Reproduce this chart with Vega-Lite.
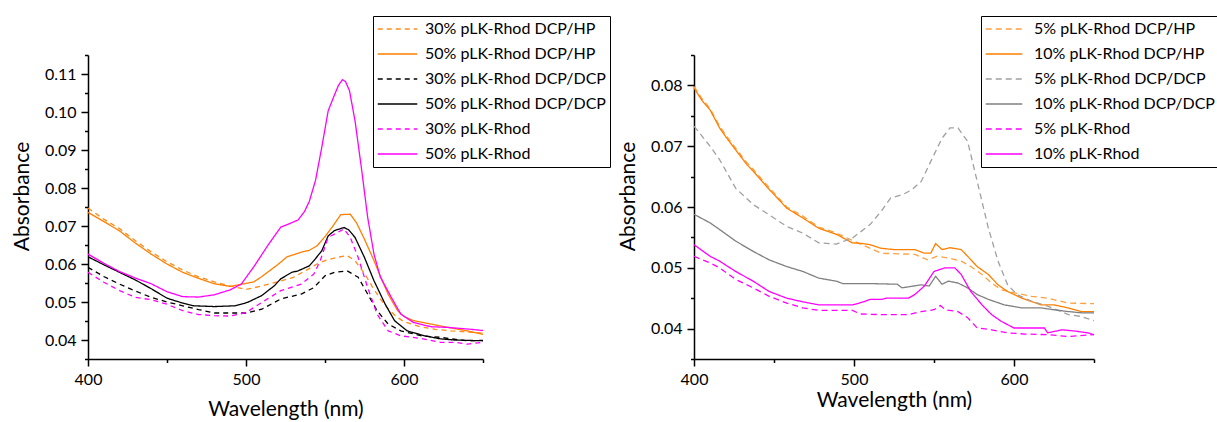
{
"$schema":"https://vega.github.io/schema/vega-lite/v6.json",
"padding":{"left":11,"top":15,"right":0,"bottom":2},
"bounds":"flush",
"spacing":211,
"config":{
 "view":{"stroke":null},
 "axis":{"domainColor":"black","domainWidth":1.5,"tickColor":"black","tickWidth":1.5,"labelFont":"Lato","labelFontSize":16,"labelColor":"black","titleFont":"Lato","titleFontSize":21,"titleFontWeight":"normal","titleColor":"black","grid":false,"labelPadding":5,"labelOverlap":false,"labelFlush":false},
 "legend":{"orient":"none","legendY":-39,"title":null,"symbolType":"stroke","symbolStrokeWidth":1.5,"labelFont":"Lato","labelFontSize":16,"labelColor":"black","strokeColor":"black","padding":4,"clipHeight":18,"rowPadding":7,"labelLimit":400}
},
"datasets":{
"left":[
{"s":"30% pLK-Rhod DCP/HP","x":400,"y":0.0747},{"s":"30% pLK-Rhod DCP/HP","x":410,"y":0.0718},{"s":"30% pLK-Rhod DCP/HP","x":420,"y":0.0693},{"s":"30% pLK-Rhod DCP/HP","x":430,"y":0.0661},{"s":"30% pLK-Rhod DCP/HP","x":440,"y":0.0632},{"s":"30% pLK-Rhod DCP/HP","x":450,"y":0.0606},{"s":"30% pLK-Rhod DCP/HP","x":460,"y":0.0584},{"s":"30% pLK-Rhod DCP/HP","x":470,"y":0.0566},{"s":"30% pLK-Rhod DCP/HP","x":480,"y":0.0553},{"s":"30% pLK-Rhod DCP/HP","x":490,"y":0.0542},{"s":"30% pLK-Rhod DCP/HP","x":500,"y":0.0533},{"s":"30% pLK-Rhod DCP/HP","x":510,"y":0.0542},{"s":"30% pLK-Rhod DCP/HP","x":520,"y":0.0553},{"s":"30% pLK-Rhod DCP/HP","x":530,"y":0.0565},{"s":"30% pLK-Rhod DCP/HP","x":540,"y":0.0588},{"s":"30% pLK-Rhod DCP/HP","x":545,"y":0.06},{"s":"30% pLK-Rhod DCP/HP","x":550,"y":0.0609},{"s":"30% pLK-Rhod DCP/HP","x":557,"y":0.0617},{"s":"30% pLK-Rhod DCP/HP","x":564,"y":0.0622},{"s":"30% pLK-Rhod DCP/HP","x":569,"y":0.0609},{"s":"30% pLK-Rhod DCP/HP","x":575,"y":0.0575},{"s":"30% pLK-Rhod DCP/HP","x":580,"y":0.054},{"s":"30% pLK-Rhod DCP/HP","x":585,"y":0.0508},{"s":"30% pLK-Rhod DCP/HP","x":590,"y":0.0482},{"s":"30% pLK-Rhod DCP/HP","x":595,"y":0.0462},{"s":"30% pLK-Rhod DCP/HP","x":600,"y":0.0448},{"s":"30% pLK-Rhod DCP/HP","x":610,"y":0.0435},{"s":"30% pLK-Rhod DCP/HP","x":620,"y":0.0428},{"s":"30% pLK-Rhod DCP/HP","x":630,"y":0.0424},{"s":"30% pLK-Rhod DCP/HP","x":640,"y":0.0421},{"s":"30% pLK-Rhod DCP/HP","x":650,"y":0.0418},
{"s":"50% pLK-Rhod DCP/HP","x":400,"y":0.0736},{"s":"50% pLK-Rhod DCP/HP","x":410,"y":0.0712},{"s":"50% pLK-Rhod DCP/HP","x":420,"y":0.0687},{"s":"50% pLK-Rhod DCP/HP","x":430,"y":0.0655},{"s":"50% pLK-Rhod DCP/HP","x":440,"y":0.0626},{"s":"50% pLK-Rhod DCP/HP","x":450,"y":0.06},{"s":"50% pLK-Rhod DCP/HP","x":460,"y":0.0578},{"s":"50% pLK-Rhod DCP/HP","x":470,"y":0.0562},{"s":"50% pLK-Rhod DCP/HP","x":480,"y":0.0548},{"s":"50% pLK-Rhod DCP/HP","x":490,"y":0.0541},{"s":"50% pLK-Rhod DCP/HP","x":500,"y":0.0549},{"s":"50% pLK-Rhod DCP/HP","x":505,"y":0.0553},{"s":"50% pLK-Rhod DCP/HP","x":510,"y":0.0567},{"s":"50% pLK-Rhod DCP/HP","x":520,"y":0.0598},{"s":"50% pLK-Rhod DCP/HP","x":526,"y":0.0619},{"s":"50% pLK-Rhod DCP/HP","x":535,"y":0.0631},{"s":"50% pLK-Rhod DCP/HP","x":540,"y":0.0636},{"s":"50% pLK-Rhod DCP/HP","x":545,"y":0.0648},{"s":"50% pLK-Rhod DCP/HP","x":550,"y":0.0672},{"s":"50% pLK-Rhod DCP/HP","x":555,"y":0.07},{"s":"50% pLK-Rhod DCP/HP","x":560,"y":0.073},{"s":"50% pLK-Rhod DCP/HP","x":566,"y":0.0731},{"s":"50% pLK-Rhod DCP/HP","x":570,"y":0.0708},{"s":"50% pLK-Rhod DCP/HP","x":575,"y":0.0665},{"s":"50% pLK-Rhod DCP/HP","x":581,"y":0.0609},{"s":"50% pLK-Rhod DCP/HP","x":585,"y":0.0568},{"s":"50% pLK-Rhod DCP/HP","x":590,"y":0.052},{"s":"50% pLK-Rhod DCP/HP","x":596,"y":0.0477},{"s":"50% pLK-Rhod DCP/HP","x":600,"y":0.0462},{"s":"50% pLK-Rhod DCP/HP","x":606,"y":0.0451},{"s":"50% pLK-Rhod DCP/HP","x":617,"y":0.0442},{"s":"50% pLK-Rhod DCP/HP","x":628,"y":0.0433},{"s":"50% pLK-Rhod DCP/HP","x":640,"y":0.0424},{"s":"50% pLK-Rhod DCP/HP","x":650,"y":0.0415},
{"s":"30% pLK-Rhod DCP/DCP","x":400,"y":0.0591},{"s":"30% pLK-Rhod DCP/DCP","x":410,"y":0.0567},{"s":"30% pLK-Rhod DCP/DCP","x":420,"y":0.0547},{"s":"30% pLK-Rhod DCP/DCP","x":430,"y":0.0529},{"s":"30% pLK-Rhod DCP/DCP","x":440,"y":0.0512},{"s":"30% pLK-Rhod DCP/DCP","x":450,"y":0.05},{"s":"30% pLK-Rhod DCP/DCP","x":460,"y":0.049},{"s":"30% pLK-Rhod DCP/DCP","x":470,"y":0.048},{"s":"30% pLK-Rhod DCP/DCP","x":480,"y":0.0471},{"s":"30% pLK-Rhod DCP/DCP","x":490,"y":0.0471},{"s":"30% pLK-Rhod DCP/DCP","x":500,"y":0.0471},{"s":"30% pLK-Rhod DCP/DCP","x":510,"y":0.0481},{"s":"30% pLK-Rhod DCP/DCP","x":522,"y":0.0508},{"s":"30% pLK-Rhod DCP/DCP","x":535,"y":0.0521},{"s":"30% pLK-Rhod DCP/DCP","x":543,"y":0.0538},{"s":"30% pLK-Rhod DCP/DCP","x":550,"y":0.0569},{"s":"30% pLK-Rhod DCP/DCP","x":556,"y":0.0578},{"s":"30% pLK-Rhod DCP/DCP","x":564,"y":0.0582},{"s":"30% pLK-Rhod DCP/DCP","x":571,"y":0.0565},{"s":"30% pLK-Rhod DCP/DCP","x":577,"y":0.0521},{"s":"30% pLK-Rhod DCP/DCP","x":583,"y":0.0477},{"s":"30% pLK-Rhod DCP/DCP","x":590,"y":0.0442},{"s":"30% pLK-Rhod DCP/DCP","x":598,"y":0.0424},{"s":"30% pLK-Rhod DCP/DCP","x":611,"y":0.0411},{"s":"30% pLK-Rhod DCP/DCP","x":623,"y":0.0407},{"s":"30% pLK-Rhod DCP/DCP","x":632,"y":0.0402},{"s":"30% pLK-Rhod DCP/DCP","x":640,"y":0.0398},{"s":"30% pLK-Rhod DCP/DCP","x":650,"y":0.0399},
{"s":"50% pLK-Rhod DCP/DCP","x":400,"y":0.0619},{"s":"50% pLK-Rhod DCP/DCP","x":410,"y":0.0598},{"s":"50% pLK-Rhod DCP/DCP","x":420,"y":0.0578},{"s":"50% pLK-Rhod DCP/DCP","x":430,"y":0.0558},{"s":"50% pLK-Rhod DCP/DCP","x":440,"y":0.0535},{"s":"50% pLK-Rhod DCP/DCP","x":450,"y":0.051},{"s":"50% pLK-Rhod DCP/DCP","x":460,"y":0.0497},{"s":"50% pLK-Rhod DCP/DCP","x":467,"y":0.049},{"s":"50% pLK-Rhod DCP/DCP","x":480,"y":0.0488},{"s":"50% pLK-Rhod DCP/DCP","x":493,"y":0.049},{"s":"50% pLK-Rhod DCP/DCP","x":501,"y":0.0499},{"s":"50% pLK-Rhod DCP/DCP","x":510,"y":0.0517},{"s":"50% pLK-Rhod DCP/DCP","x":518,"y":0.0543},{"s":"50% pLK-Rhod DCP/DCP","x":522,"y":0.0561},{"s":"50% pLK-Rhod DCP/DCP","x":529,"y":0.0578},{"s":"50% pLK-Rhod DCP/DCP","x":533,"y":0.0582},{"s":"50% pLK-Rhod DCP/DCP","x":540,"y":0.0595},{"s":"50% pLK-Rhod DCP/DCP","x":543,"y":0.0609},{"s":"50% pLK-Rhod DCP/DCP","x":548,"y":0.0635},{"s":"50% pLK-Rhod DCP/DCP","x":552,"y":0.0674},{"s":"50% pLK-Rhod DCP/DCP","x":556,"y":0.0688},{"s":"50% pLK-Rhod DCP/DCP","x":562,"y":0.0696},{"s":"50% pLK-Rhod DCP/DCP","x":565,"y":0.069},{"s":"50% pLK-Rhod DCP/DCP","x":569,"y":0.067},{"s":"50% pLK-Rhod DCP/DCP","x":575,"y":0.0617},{"s":"50% pLK-Rhod DCP/DCP","x":581,"y":0.0556},{"s":"50% pLK-Rhod DCP/DCP","x":588,"y":0.0495},{"s":"50% pLK-Rhod DCP/DCP","x":594,"y":0.0451},{"s":"50% pLK-Rhod DCP/DCP","x":602,"y":0.0424},{"s":"50% pLK-Rhod DCP/DCP","x":613,"y":0.0411},{"s":"50% pLK-Rhod DCP/DCP","x":623,"y":0.0403},{"s":"50% pLK-Rhod DCP/DCP","x":632,"y":0.04},{"s":"50% pLK-Rhod DCP/DCP","x":640,"y":0.0399},{"s":"50% pLK-Rhod DCP/DCP","x":650,"y":0.0398},
{"s":"30% pLK-Rhod","x":400,"y":0.0578},{"s":"30% pLK-Rhod","x":410,"y":0.0552},{"s":"30% pLK-Rhod","x":420,"y":0.053},{"s":"30% pLK-Rhod","x":430,"y":0.0512},{"s":"30% pLK-Rhod","x":440,"y":0.0506},{"s":"30% pLK-Rhod","x":450,"y":0.0494},{"s":"30% pLK-Rhod","x":460,"y":0.0477},{"s":"30% pLK-Rhod","x":470,"y":0.0467},{"s":"30% pLK-Rhod","x":480,"y":0.0464},{"s":"30% pLK-Rhod","x":490,"y":0.0463},{"s":"30% pLK-Rhod","x":500,"y":0.0472},{"s":"30% pLK-Rhod","x":510,"y":0.0499},{"s":"30% pLK-Rhod","x":522,"y":0.053},{"s":"30% pLK-Rhod","x":535,"y":0.0547},{"s":"30% pLK-Rhod","x":543,"y":0.0574},{"s":"30% pLK-Rhod","x":547,"y":0.0609},{"s":"30% pLK-Rhod","x":552,"y":0.067},{"s":"30% pLK-Rhod","x":558,"y":0.0683},{"s":"30% pLK-Rhod","x":562,"y":0.0692},{"s":"30% pLK-Rhod","x":566,"y":0.067},{"s":"30% pLK-Rhod","x":571,"y":0.0617},{"s":"30% pLK-Rhod","x":577,"y":0.0538},{"s":"30% pLK-Rhod","x":583,"y":0.0468},{"s":"30% pLK-Rhod","x":590,"y":0.0424},{"s":"30% pLK-Rhod","x":598,"y":0.0411},{"s":"30% pLK-Rhod","x":611,"y":0.0404},{"s":"30% pLK-Rhod","x":623,"y":0.0394},{"s":"30% pLK-Rhod","x":632,"y":0.0394},{"s":"30% pLK-Rhod","x":640,"y":0.0389},{"s":"30% pLK-Rhod","x":650,"y":0.0394},
{"s":"50% pLK-Rhod","x":400,"y":0.0626},{"s":"50% pLK-Rhod","x":410,"y":0.0602},{"s":"50% pLK-Rhod","x":420,"y":0.058},{"s":"50% pLK-Rhod","x":430,"y":0.0563},{"s":"50% pLK-Rhod","x":440,"y":0.0548},{"s":"50% pLK-Rhod","x":450,"y":0.0527},{"s":"50% pLK-Rhod","x":460,"y":0.0514},{"s":"50% pLK-Rhod","x":470,"y":0.0513},{"s":"50% pLK-Rhod","x":480,"y":0.0519},{"s":"50% pLK-Rhod","x":490,"y":0.0532},{"s":"50% pLK-Rhod","x":497,"y":0.0547},{"s":"50% pLK-Rhod","x":505,"y":0.0593},{"s":"50% pLK-Rhod","x":514,"y":0.065},{"s":"50% pLK-Rhod","x":522,"y":0.0697},{"s":"50% pLK-Rhod","x":528,"y":0.0707},{"s":"50% pLK-Rhod","x":533,"y":0.0716},{"s":"50% pLK-Rhod","x":537,"y":0.0738},{"s":"50% pLK-Rhod","x":540,"y":0.0764},{"s":"50% pLK-Rhod","x":544,"y":0.082},{"s":"50% pLK-Rhod","x":548,"y":0.0908},{"s":"50% pLK-Rhod","x":552,"y":0.1003},{"s":"50% pLK-Rhod","x":556,"y":0.1045},{"s":"50% pLK-Rhod","x":558.5,"y":0.107},{"s":"50% pLK-Rhod","x":561,"y":0.1085},{"s":"50% pLK-Rhod","x":563,"y":0.108},{"s":"50% pLK-Rhod","x":565.5,"y":0.1056},{"s":"50% pLK-Rhod","x":569,"y":0.0977},{"s":"50% pLK-Rhod","x":573,"y":0.0854},{"s":"50% pLK-Rhod","x":577,"y":0.0723},{"s":"50% pLK-Rhod","x":581,"y":0.0626},{"s":"50% pLK-Rhod","x":585,"y":0.0566},{"s":"50% pLK-Rhod","x":592,"y":0.0512},{"s":"50% pLK-Rhod","x":598,"y":0.0468},{"s":"50% pLK-Rhod","x":606,"y":0.0446},{"s":"50% pLK-Rhod","x":617,"y":0.0435},{"s":"50% pLK-Rhod","x":628,"y":0.0433},{"s":"50% pLK-Rhod","x":640,"y":0.0429},{"s":"50% pLK-Rhod","x":650,"y":0.0425}
],
"right":[
{"s":"5% pLK-Rhod DCP/HP","x":400,"y":0.0798},{"s":"5% pLK-Rhod DCP/HP","x":405,"y":0.0778},{"s":"5% pLK-Rhod DCP/HP","x":410,"y":0.0762},{"s":"5% pLK-Rhod DCP/HP","x":416,"y":0.0733},{"s":"5% pLK-Rhod DCP/HP","x":420,"y":0.0718},{"s":"5% pLK-Rhod DCP/HP","x":426,"y":0.0697},{"s":"5% pLK-Rhod DCP/HP","x":433,"y":0.0673},{"s":"5% pLK-Rhod DCP/HP","x":437,"y":0.0662},{"s":"5% pLK-Rhod DCP/HP","x":447,"y":0.0632},{"s":"5% pLK-Rhod DCP/HP","x":458,"y":0.06},{"s":"5% pLK-Rhod DCP/HP","x":468,"y":0.0585},{"s":"5% pLK-Rhod DCP/HP","x":478,"y":0.0567},{"s":"5% pLK-Rhod DCP/HP","x":489,"y":0.0557},{"s":"5% pLK-Rhod DCP/HP","x":499,"y":0.0545},{"s":"5% pLK-Rhod DCP/HP","x":505,"y":0.0538},{"s":"5% pLK-Rhod DCP/HP","x":517,"y":0.0524},{"s":"5% pLK-Rhod DCP/HP","x":538,"y":0.0522},{"s":"5% pLK-Rhod DCP/HP","x":546,"y":0.0513},{"s":"5% pLK-Rhod DCP/HP","x":552,"y":0.0519},{"s":"5% pLK-Rhod DCP/HP","x":559,"y":0.0516},{"s":"5% pLK-Rhod DCP/HP","x":567,"y":0.0511},{"s":"5% pLK-Rhod DCP/HP","x":573,"y":0.0502},{"s":"5% pLK-Rhod DCP/HP","x":580,"y":0.0489},{"s":"5% pLK-Rhod DCP/HP","x":586,"y":0.0475},{"s":"5% pLK-Rhod DCP/HP","x":592,"y":0.0464},{"s":"5% pLK-Rhod DCP/HP","x":600,"y":0.0459},{"s":"5% pLK-Rhod DCP/HP","x":611,"y":0.0453},{"s":"5% pLK-Rhod DCP/HP","x":621,"y":0.045},{"s":"5% pLK-Rhod DCP/HP","x":634,"y":0.0442},{"s":"5% pLK-Rhod DCP/HP","x":650,"y":0.0441},
{"s":"10% pLK-Rhod DCP/HP","x":400,"y":0.0796},{"s":"10% pLK-Rhod DCP/HP","x":405,"y":0.0775},{"s":"10% pLK-Rhod DCP/HP","x":410,"y":0.076},{"s":"10% pLK-Rhod DCP/HP","x":416,"y":0.073},{"s":"10% pLK-Rhod DCP/HP","x":420,"y":0.0715},{"s":"10% pLK-Rhod DCP/HP","x":426,"y":0.0694},{"s":"10% pLK-Rhod DCP/HP","x":433,"y":0.067},{"s":"10% pLK-Rhod DCP/HP","x":437,"y":0.0659},{"s":"10% pLK-Rhod DCP/HP","x":447,"y":0.0629},{"s":"10% pLK-Rhod DCP/HP","x":458,"y":0.0598},{"s":"10% pLK-Rhod DCP/HP","x":468,"y":0.0582},{"s":"10% pLK-Rhod DCP/HP","x":478,"y":0.0565},{"s":"10% pLK-Rhod DCP/HP","x":489,"y":0.0555},{"s":"10% pLK-Rhod DCP/HP","x":499,"y":0.0541},{"s":"10% pLK-Rhod DCP/HP","x":505,"y":0.054},{"s":"10% pLK-Rhod DCP/HP","x":510,"y":0.0538},{"s":"10% pLK-Rhod DCP/HP","x":517,"y":0.0532},{"s":"10% pLK-Rhod DCP/HP","x":525,"y":0.053},{"s":"10% pLK-Rhod DCP/HP","x":538,"y":0.053},{"s":"10% pLK-Rhod DCP/HP","x":544,"y":0.0524},{"s":"10% pLK-Rhod DCP/HP","x":548,"y":0.0524},{"s":"10% pLK-Rhod DCP/HP","x":551,"y":0.054},{"s":"10% pLK-Rhod DCP/HP","x":555,"y":0.053},{"s":"10% pLK-Rhod DCP/HP","x":560,"y":0.0533},{"s":"10% pLK-Rhod DCP/HP","x":567,"y":0.053},{"s":"10% pLK-Rhod DCP/HP","x":571,"y":0.0519},{"s":"10% pLK-Rhod DCP/HP","x":577,"y":0.0502},{"s":"10% pLK-Rhod DCP/HP","x":584,"y":0.0489},{"s":"10% pLK-Rhod DCP/HP","x":590,"y":0.0472},{"s":"10% pLK-Rhod DCP/HP","x":596,"y":0.0461},{"s":"10% pLK-Rhod DCP/HP","x":605,"y":0.045},{"s":"10% pLK-Rhod DCP/HP","x":617,"y":0.0439},{"s":"10% pLK-Rhod DCP/HP","x":625,"y":0.0439},{"s":"10% pLK-Rhod DCP/HP","x":634,"y":0.0434},{"s":"10% pLK-Rhod DCP/HP","x":642,"y":0.0428},{"s":"10% pLK-Rhod DCP/HP","x":650,"y":0.0428},
{"s":"5% pLK-Rhod DCP/DCP","x":400,"y":0.0733},{"s":"5% pLK-Rhod DCP/DCP","x":410,"y":0.07},{"s":"5% pLK-Rhod DCP/DCP","x":416,"y":0.0678},{"s":"5% pLK-Rhod DCP/DCP","x":426,"y":0.0631},{"s":"5% pLK-Rhod DCP/DCP","x":437,"y":0.0604},{"s":"5% pLK-Rhod DCP/DCP","x":447,"y":0.0587},{"s":"5% pLK-Rhod DCP/DCP","x":458,"y":0.0568},{"s":"5% pLK-Rhod DCP/DCP","x":468,"y":0.0557},{"s":"5% pLK-Rhod DCP/DCP","x":478,"y":0.0541},{"s":"5% pLK-Rhod DCP/DCP","x":489,"y":0.0539},{"s":"5% pLK-Rhod DCP/DCP","x":499,"y":0.0549},{"s":"5% pLK-Rhod DCP/DCP","x":510,"y":0.0571},{"s":"5% pLK-Rhod DCP/DCP","x":517,"y":0.0593},{"s":"5% pLK-Rhod DCP/DCP","x":523,"y":0.0615},{"s":"5% pLK-Rhod DCP/DCP","x":530,"y":0.062},{"s":"5% pLK-Rhod DCP/DCP","x":536,"y":0.0628},{"s":"5% pLK-Rhod DCP/DCP","x":542,"y":0.0642},{"s":"5% pLK-Rhod DCP/DCP","x":548,"y":0.0675},{"s":"5% pLK-Rhod DCP/DCP","x":555,"y":0.0713},{"s":"5% pLK-Rhod DCP/DCP","x":560,"y":0.073},{"s":"5% pLK-Rhod DCP/DCP","x":565,"y":0.073},{"s":"5% pLK-Rhod DCP/DCP","x":571,"y":0.0708},{"s":"5% pLK-Rhod DCP/DCP","x":577,"y":0.0642},{"s":"5% pLK-Rhod DCP/DCP","x":584,"y":0.0565},{"s":"5% pLK-Rhod DCP/DCP","x":590,"y":0.0511},{"s":"5% pLK-Rhod DCP/DCP","x":596,"y":0.0472},{"s":"5% pLK-Rhod DCP/DCP","x":602,"y":0.0456},{"s":"5% pLK-Rhod DCP/DCP","x":611,"y":0.0445},{"s":"5% pLK-Rhod DCP/DCP","x":621,"y":0.0437},{"s":"5% pLK-Rhod DCP/DCP","x":634,"y":0.0423},{"s":"5% pLK-Rhod DCP/DCP","x":642,"y":0.042},{"s":"5% pLK-Rhod DCP/DCP","x":650,"y":0.0413},
{"s":"10% pLK-Rhod DCP/DCP","x":400,"y":0.0588},{"s":"10% pLK-Rhod DCP/DCP","x":410,"y":0.0574},{"s":"10% pLK-Rhod DCP/DCP","x":416,"y":0.0563},{"s":"10% pLK-Rhod DCP/DCP","x":426,"y":0.0544},{"s":"10% pLK-Rhod DCP/DCP","x":437,"y":0.0527},{"s":"10% pLK-Rhod DCP/DCP","x":447,"y":0.0513},{"s":"10% pLK-Rhod DCP/DCP","x":458,"y":0.0502},{"s":"10% pLK-Rhod DCP/DCP","x":468,"y":0.0494},{"s":"10% pLK-Rhod DCP/DCP","x":478,"y":0.0483},{"s":"10% pLK-Rhod DCP/DCP","x":489,"y":0.0478},{"s":"10% pLK-Rhod DCP/DCP","x":493,"y":0.0474},{"s":"10% pLK-Rhod DCP/DCP","x":510,"y":0.0474},{"s":"10% pLK-Rhod DCP/DCP","x":527,"y":0.0473},{"s":"10% pLK-Rhod DCP/DCP","x":530,"y":0.0467},{"s":"10% pLK-Rhod DCP/DCP","x":542,"y":0.0472},{"s":"10% pLK-Rhod DCP/DCP","x":547,"y":0.047},{"s":"10% pLK-Rhod DCP/DCP","x":551,"y":0.0486},{"s":"10% pLK-Rhod DCP/DCP","x":555,"y":0.0473},{"s":"10% pLK-Rhod DCP/DCP","x":559,"y":0.0478},{"s":"10% pLK-Rhod DCP/DCP","x":565,"y":0.0475},{"s":"10% pLK-Rhod DCP/DCP","x":571,"y":0.0467},{"s":"10% pLK-Rhod DCP/DCP","x":577,"y":0.0456},{"s":"10% pLK-Rhod DCP/DCP","x":584,"y":0.0448},{"s":"10% pLK-Rhod DCP/DCP","x":594,"y":0.0439},{"s":"10% pLK-Rhod DCP/DCP","x":605,"y":0.0434},{"s":"10% pLK-Rhod DCP/DCP","x":617,"y":0.0434},{"s":"10% pLK-Rhod DCP/DCP","x":625,"y":0.0431},{"s":"10% pLK-Rhod DCP/DCP","x":634,"y":0.0428},{"s":"10% pLK-Rhod DCP/DCP","x":642,"y":0.0426},{"s":"10% pLK-Rhod DCP/DCP","x":650,"y":0.0426},
{"s":"5% pLK-Rhod","x":400,"y":0.0519},{"s":"5% pLK-Rhod","x":410,"y":0.0508},{"s":"5% pLK-Rhod","x":416,"y":0.05},{"s":"5% pLK-Rhod","x":426,"y":0.0481},{"s":"5% pLK-Rhod","x":437,"y":0.0467},{"s":"5% pLK-Rhod","x":447,"y":0.0453},{"s":"5% pLK-Rhod","x":458,"y":0.0442},{"s":"5% pLK-Rhod","x":468,"y":0.0434},{"s":"5% pLK-Rhod","x":478,"y":0.043},{"s":"5% pLK-Rhod","x":489,"y":0.043},{"s":"5% pLK-Rhod","x":499,"y":0.043},{"s":"5% pLK-Rhod","x":504,"y":0.0424},{"s":"5% pLK-Rhod","x":517,"y":0.0423},{"s":"5% pLK-Rhod","x":534,"y":0.0423},{"s":"5% pLK-Rhod","x":542,"y":0.0428},{"s":"5% pLK-Rhod","x":550,"y":0.0431},{"s":"5% pLK-Rhod","x":554,"y":0.0438},{"s":"5% pLK-Rhod","x":557,"y":0.0431},{"s":"5% pLK-Rhod","x":565,"y":0.0428},{"s":"5% pLK-Rhod","x":571,"y":0.0418},{"s":"5% pLK-Rhod","x":577,"y":0.0401},{"s":"5% pLK-Rhod","x":586,"y":0.0398},{"s":"5% pLK-Rhod","x":596,"y":0.0393},{"s":"5% pLK-Rhod","x":607,"y":0.0391},{"s":"5% pLK-Rhod","x":621,"y":0.039},{"s":"5% pLK-Rhod","x":634,"y":0.0387},{"s":"5% pLK-Rhod","x":650,"y":0.039},
{"s":"10% pLK-Rhod","x":400,"y":0.0538},{"s":"10% pLK-Rhod","x":410,"y":0.0519},{"s":"10% pLK-Rhod","x":416,"y":0.0511},{"s":"10% pLK-Rhod","x":426,"y":0.0494},{"s":"10% pLK-Rhod","x":437,"y":0.0478},{"s":"10% pLK-Rhod","x":447,"y":0.0461},{"s":"10% pLK-Rhod","x":458,"y":0.045},{"s":"10% pLK-Rhod","x":468,"y":0.0444},{"s":"10% pLK-Rhod","x":478,"y":0.0439},{"s":"10% pLK-Rhod","x":489,"y":0.0439},{"s":"10% pLK-Rhod","x":499,"y":0.0439},{"s":"10% pLK-Rhod","x":506,"y":0.0444},{"s":"10% pLK-Rhod","x":510,"y":0.0448},{"s":"10% pLK-Rhod","x":517,"y":0.0448},{"s":"10% pLK-Rhod","x":520,"y":0.045},{"s":"10% pLK-Rhod","x":534,"y":0.045},{"s":"10% pLK-Rhod","x":538,"y":0.0456},{"s":"10% pLK-Rhod","x":544,"y":0.047},{"s":"10% pLK-Rhod","x":550,"y":0.0494},{"s":"10% pLK-Rhod","x":557,"y":0.05},{"s":"10% pLK-Rhod","x":563,"y":0.05},{"s":"10% pLK-Rhod","x":567,"y":0.0489},{"s":"10% pLK-Rhod","x":573,"y":0.0461},{"s":"10% pLK-Rhod","x":580,"y":0.0439},{"s":"10% pLK-Rhod","x":586,"y":0.0423},{"s":"10% pLK-Rhod","x":592,"y":0.0412},{"s":"10% pLK-Rhod","x":600,"y":0.0401},{"s":"10% pLK-Rhod","x":613,"y":0.0401},{"s":"10% pLK-Rhod","x":619,"y":0.0401},{"s":"10% pLK-Rhod","x":621,"y":0.0393},{"s":"10% pLK-Rhod","x":630,"y":0.0398},{"s":"10% pLK-Rhod","x":638,"y":0.0396},{"s":"10% pLK-Rhod","x":646,"y":0.0393},{"s":"10% pLK-Rhod","x":650,"y":0.039}
]},
"hconcat":[
{"width":395,"height":304,"data":{"name":"left"},
 "mark":{"type":"line","strokeWidth":1.3},
 "encoding":{
  "x":{"field":"x","type":"quantitative","scale":{"domain":[400,650],"nice":false,"zero":false},
   "axis":{"title":"Wavelength (nm)","values":[400,450,500,550,600,650],"labelExpr":"datum.value % 100 === 0 ? datum.label : ''","tickSize":{"condition":{"test":"datum.value % 100 === 0","value":7},"value":3.5},"titlePadding":11}},
  "y":{"field":"y","type":"quantitative","scale":{"domain":[0.035,0.115],"nice":false,"zero":false},
   "axis":{"title":"Absorbance","titleY":141,"values":[0.035,0.04,0.045,0.05,0.055,0.06,0.065,0.07,0.075,0.08,0.085,0.09,0.095,0.1,0.105,0.11,0.115],"labelExpr":"abs(datum.value*100 - round(datum.value*100)) < 0.001 ? format(datum.value, '.2f') : ''","tickSize":{"condition":{"test":"abs(datum.value*100 - round(datum.value*100)) < 0.001","value":7},"value":3.5},"titlePadding":12}},
  "color":{"field":"s","type":"nominal","scale":{"domain":["30% pLK-Rhod DCP/HP","50% pLK-Rhod DCP/HP","30% pLK-Rhod DCP/DCP","50% pLK-Rhod DCP/DCP","30% pLK-Rhod","50% pLK-Rhod"],"range":["#FF8C1A","#FF7F00","#000000","#000000","#FF00FF","#FF00FF"]},"legend":{"legendX":285,"symbolSize":1560,"labelOffset":7}},
  "strokeDash":{"field":"s","type":"nominal","scale":{"domain":["30% pLK-Rhod DCP/HP","50% pLK-Rhod DCP/HP","30% pLK-Rhod DCP/DCP","50% pLK-Rhod DCP/DCP","30% pLK-Rhod","50% pLK-Rhod"],"range":[[5,4],[1,0],[5,4],[1,0],[5,4],[1,0]]},"legend":{"legendX":285,"symbolSize":1560,"labelOffset":7}}
 }},
{"width":400,"height":304,"data":{"name":"right"},
 "mark":{"type":"line","strokeWidth":1.3},
 "encoding":{
  "x":{"field":"x","type":"quantitative","scale":{"domain":[400,650],"nice":false,"zero":false},
   "axis":{"title":"Wavelength (nm)","values":[400,450,500,550,600,650],"labelExpr":"datum.value % 100 === 0 ? datum.label : ''","tickSize":{"condition":{"test":"datum.value % 100 === 0","value":7},"value":3.5},"titlePadding":2}},
  "y":{"field":"y","type":"quantitative","scale":{"domain":[0.035,0.085],"nice":false,"zero":false},
   "axis":{"title":"Absorbance","titleY":141,"values":[0.035,0.04,0.045,0.05,0.055,0.06,0.065,0.07,0.075,0.08,0.085],"labelExpr":"abs(datum.value*100 - round(datum.value*100)) < 0.001 ? format(datum.value, '.2f') : ''","tickSize":{"condition":{"test":"abs(datum.value*100 - round(datum.value*100)) < 0.001","value":7},"value":3.5},"titlePadding":12}},
  "color":{"field":"s","type":"nominal","scale":{"domain":["5% pLK-Rhod DCP/HP","10% pLK-Rhod DCP/HP","5% pLK-Rhod DCP/DCP","10% pLK-Rhod DCP/DCP","5% pLK-Rhod","10% pLK-Rhod"],"range":["#FFA040","#FF7F00","#A0A0A0","#808080","#FF00FF","#FF00FF"]},"legend":{"legendX":287,"symbolSize":1332,"labelOffset":11}},
  "strokeDash":{"field":"s","type":"nominal","scale":{"domain":["5% pLK-Rhod DCP/HP","10% pLK-Rhod DCP/HP","5% pLK-Rhod DCP/DCP","10% pLK-Rhod DCP/DCP","5% pLK-Rhod","10% pLK-Rhod"],"range":[[6,4],[1,0],[6,4],[1,0],[6,4],[1,0]]},"legend":{"legendX":287,"symbolSize":1332,"labelOffset":11}}
 }}
],
"resolve":{"scale":{"color":"independent","strokeDash":"independent","x":"independent","y":"independent"}}
}
